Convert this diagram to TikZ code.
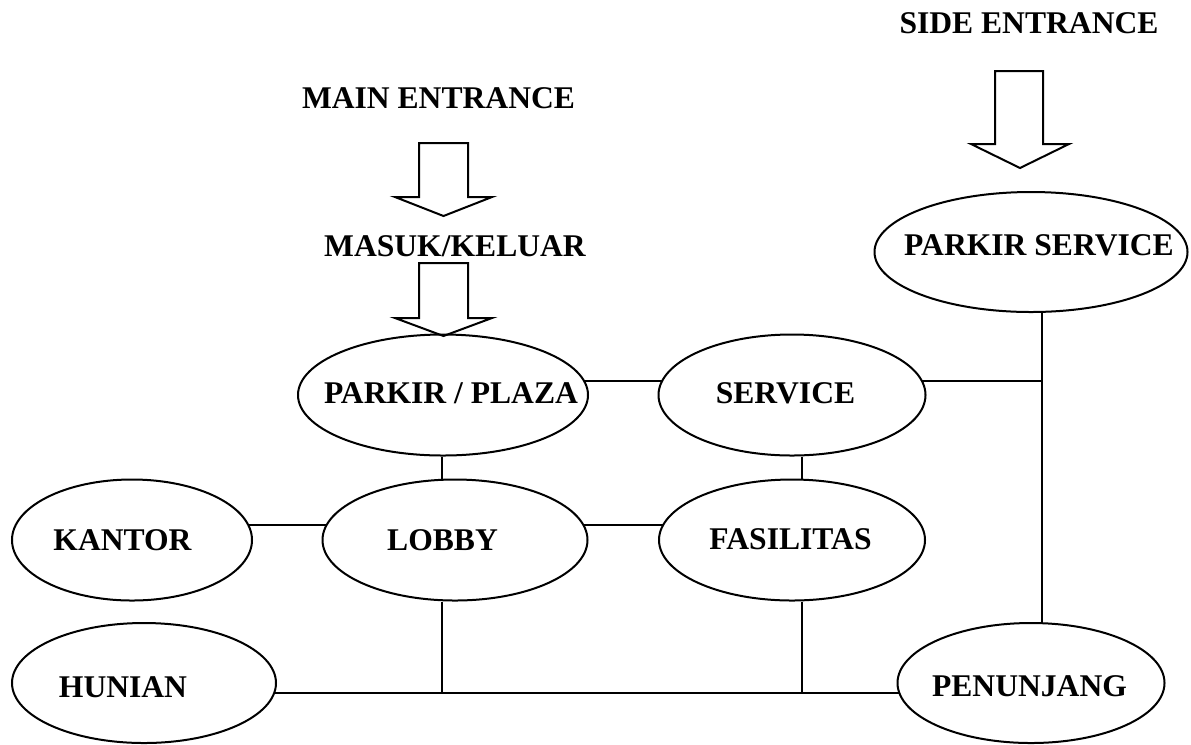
\documentclass[tikz,border=0pt]{standalone}
\usepackage{fontspec}
\setmainfont{Liberation Serif}
\usetikzlibrary{shapes.geometric,calc}
\begin{document}
\begin{tikzpicture}[x=0.75pt,y=-0.75pt,line width=1.5pt,
  oval/.style 2 args={draw,ellipse,inner sep=0pt,minimum width=#1*0.75pt,minimum height=#2*0.75pt},
  lbl/.style={anchor=base,inner sep=0pt,font=\fontsize{23.7}{28}\selectfont\bfseries},
  blockarrow/.style={draw,line join=miter}]
\useasboundingbox (0,0) rectangle (1191,744);

% ellipses
\node[oval={313}{120}] (ps) at (1031,252) {};
\node[oval={290}{121}] (pp) at (443,395) {};
\node[oval={267}{121}] (sv) at (792,395) {};
\node[oval={240}{121}] (kt) at (132,540) {};
\node[oval={265}{121}] (lb) at (455,540) {};
\node[oval={266}{121}] (fs) at (792,540) {};
\node[oval={264}{120}] (hn) at (144,683) {};
\node[oval={267}{120}] (pj) at (1031,683) {};

% labels
\node[lbl] (tme) at (438.5,108) {MAIN ENTRANCE};
\node[lbl] (tmk) at (455,256) {MASUK/KELUAR};
\node[lbl] (tse) at (1029,33) {SIDE ENTRANCE};
\node[lbl] (tps) at (1039,255) {PARKIR SERVICE};
\node[lbl] (tpp) at (451,403) {PARKIR / PLAZA};
\node[lbl] (tsv) at (785.5,403) {SERVICE};
\node[lbl] (tkt) at (122.5,550) {KANTOR};
\node[lbl] (tlb) at (442.5,550) {LOBBY};
\node[lbl] (tfs) at (790.5,549) {FASILITAS};
\node[lbl] (thn) at (123,697) {HUNIAN};
\node[lbl] (tpj) at (1029.5,696) {PENUNJANG};

% block arrows
\draw[blockarrow] (419,143) -- (468,143) -- (468,197) -- (492,197) -- (443.5,216) -- (395,197) -- (419,197) -- cycle;
\draw[blockarrow] (419,263) -- (468,263) -- (468,318) -- (492,318) -- (443.5,336) -- (395,318) -- (419,318) -- cycle;
\draw[blockarrow] (995,71) -- (1043,71) -- (1043,144) -- (1069,144) -- (1020,168) -- (971,144) -- (995,144) -- cycle;

% connector guides
\coordinate (vx1) at (442,0);
\coordinate (vx2) at (802,0);
\coordinate (vx3) at (1042,0);

% connectors
\draw ($(pp.center)+(141.1,-14)$) -- ($(sv.center)+(-129.3,-14)$);
\draw ($(sv.center)+(129.3,-14)$) coordinate (svr) -- (svr -| vx3);
\draw (ps.south -| vx3) -- (pj.north -| vx3);
\draw (pp.south -| vx1) -- (lb.north -| vx1);
\draw (sv.south -| vx2) -- (fs.north -| vx2);
\draw ($(kt.center)+(116.2,-15)$) -- ($(lb.center)+(-128.8,-15)$);
\draw ($(lb.center)+(128.8,-15)$) -- ($(fs.center)+(-128.8,-15)$);
\draw ($(hn.center)+(130.2,10)$) coordinate (hnr) -- ($(pj.center)+(-131.1,10)$);
\draw (lb.south -| vx1) -- (vx1 |- hnr);
\draw (fs.south -| vx2) -- (vx2 |- hnr);
\end{tikzpicture}
\end{document}
